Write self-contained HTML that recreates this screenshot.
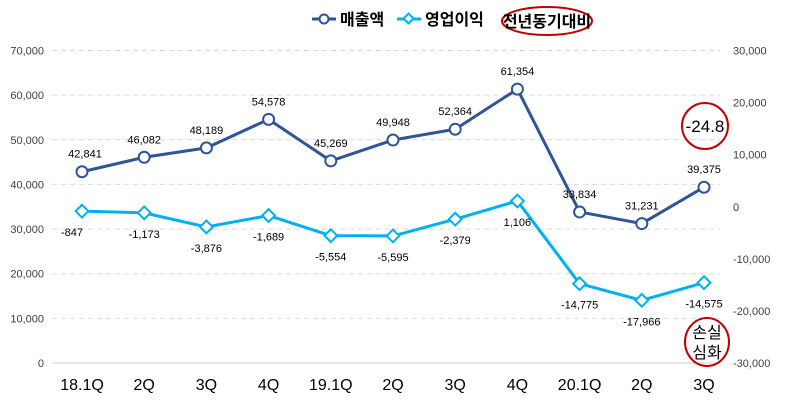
<!DOCTYPE html>
<html><head><meta charset="utf-8"><style>
body{margin:0;background:#fff}
svg{display:block;font-family:"Liberation Sans","Noto Sans CJK KR",sans-serif}
</style></head><body>
<svg id="c" width="790" height="406" viewBox="0 0 790 406">
<g id="grid"></g><g id="axes"></g><g id="series"></g>
<g>
<line x1="312" y1="19" x2="336" y2="19" stroke="#2F5597" stroke-width="3"/>
<circle cx="324" cy="19" r="4.5" fill="#fff" stroke="#2F5597" stroke-width="2"/>
<text x="340" y="25" font-size="16" font-weight="bold" fill="#000">매출액</text>
<line x1="397" y1="19" x2="421" y2="19" stroke="#00B0F0" stroke-width="3"/>
<rect x="405" y="15" width="7" height="7" fill="#fff" stroke="#00B0F0" stroke-width="2" transform="rotate(45 408.5 18.5)"/>
<text x="425" y="25" font-size="16" font-weight="bold" fill="#000">영업이익</text>
<ellipse cx="547" cy="21" rx="45" ry="14" fill="none" stroke="#C00000" stroke-width="2"/>
<text x="547" y="27" font-size="16" font-weight="bold" text-anchor="middle" fill="#000">전년동기대비</text>
</g>
<g>
<circle cx="705" cy="126" r="23" fill="none" stroke="#C00000" stroke-width="2"/>
<text x="705" y="132" font-size="17" text-anchor="middle" fill="#000">-24.8</text>
</g>
<g>
<ellipse cx="707" cy="342" rx="22" ry="24" fill="none" stroke="#C00000" stroke-width="2"/>
<text x="707" y="338" font-size="16" text-anchor="middle" fill="#000">손실</text>
<text x="707" y="358" font-size="16" text-anchor="middle" fill="#000">심화</text>
</g>
</svg>
<script>
const categories=["18.1Q","2Q","3Q","4Q","19.1Q","2Q","3Q","4Q","20.1Q","2Q","3Q"];
const sales=[42841,46082,48189,54578,45269,49948,52364,61354,33834,31231,39375];
const profit=[-847,-1173,-3876,-1689,-5554,-5595,-2379,1106,-14775,-17966,-14575];
const leftTicks=[0,10000,20000,30000,40000,50000,60000,70000];
const rightTicks=[-30000,-20000,-10000,0,10000,20000,30000];
const NS="http://www.w3.org/2000/svg";
const plotTop=50.5,plotBot=363,x0=82,dx=62.2;
const yL=v=>plotBot-(v/70000)*(plotBot-plotTop);
const yR=v=>plotBot-((v+30000)/60000)*(plotBot-plotTop);
const xC=i=>x0+i*dx;
const fmt=v=>v.toLocaleString('en-US');
function mk(t,a,p){const e=document.createElementNS(NS,t);for(const k in a)e.setAttribute(k,a[k]);(p||document.getElementById('series')).appendChild(e);return e;}
const grid=document.getElementById('grid'),axes=document.getElementById('axes');
leftTicks.forEach(v=>{
 const l=mk('line',{x1:52,x2:720,y1:yL(v),y2:yL(v),stroke:v===0?'#d0d0d0':'#d9d9d9','stroke-width':1,'stroke-dasharray':v===0?'none':'5,4'},grid);
 
 
 const t=mk('text',{x:44,y:yL(v)+4,'font-size':11,'text-anchor':'end',fill:'#404040'},axes);t.textContent=fmt(v);
 
 
});
rightTicks.forEach(v=>{
 const t=mk('text',{x:733,y:yR(v)+4,'font-size':11,fill:'#404040'},axes);t.textContent=fmt(v);
 
 
});
categories.forEach((c,i)=>{
 const t=mk('text',{x:xC(i),y:390,'font-size':16,'text-anchor':'middle',fill:'#000'},axes);t.textContent=c;
 
 
});
const pl=mk('polyline',{points:profit.map((v,i)=>xC(i)+','+yR(v)).join(' '),fill:'none',stroke:'#00B0F0','stroke-width':3});


const sl=mk('polyline',{points:sales.map((v,i)=>xC(i)+','+yL(v)).join(' '),fill:'none',stroke:'#2F5597','stroke-width':3});


profit.forEach((v,i)=>{
 const x=xC(i),y=yR(v);
 const m=mk('rect',{x:x-4.5,y:y-4.5,width:9,height:9,fill:'#fff',stroke:'#00B0F0','stroke-width':2,transform:`rotate(45 ${x} ${y})`});
 
 
 const t=mk('text',{x:x+(i===0?-10:0),y:y+25,'font-size':11,'text-anchor':'middle',fill:'#000'});t.textContent=fmt(v);
 
 
});
sales.forEach((v,i)=>{
 const x=xC(i),y=yL(v);
 const m=mk('circle',{cx:x,cy:y,r:5.5,fill:'#fff',stroke:'#2F5597','stroke-width':2});
 
 
 const t=mk('text',{x:x+(i===0?3:0),y:y-14,'font-size':11,'text-anchor':'middle',fill:'#000'});t.textContent=fmt(v);
 
 
});
</script>
</body></html>
